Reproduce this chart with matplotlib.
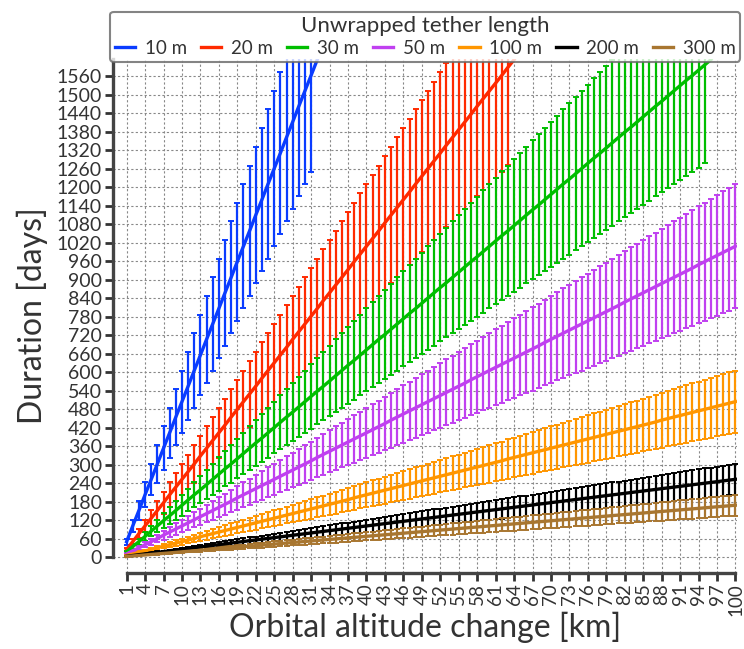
"""
Deorbit duration vs orbital altitude change, for several tether lengths
"""
import numpy as np
import matplotlib
matplotlib.use('Agg')
import matplotlib.pyplot as plt

plt.rcParams['font.family'] = ['Lato', 'DejaVu Sans']

# duration [days], one value per km of altitude change
dur_10m = [50, 101, 151, 202, 252, 302, 353, 403, 454, 504, 554, 605, 655, 706, 756, 806,
           857, 907, 958, 1008, 1058, 1109, 1159, 1210, 1260, 1310, 1361, 1411, 1462, 1512,
           1562, 1613]
dur_20m = [25, 50, 76, 101, 126, 151, 176, 202, 227, 252, 277, 302, 328, 353, 378, 403,
           428, 454, 479, 504, 529, 554, 580, 605, 630, 655, 680, 706, 731, 756, 781, 806,
           832, 857, 882, 907, 932, 958, 983, 1008, 1033, 1058, 1084, 1109, 1134, 1159, 1184,
           1210, 1235, 1260, 1285, 1310, 1336, 1361, 1386, 1411, 1436, 1462, 1487, 1512,
           1537, 1562, 1588, 1613]
dur_30m = [17, 34, 50, 67, 84, 101, 118, 134, 151, 168, 185, 202, 218, 235, 252, 269, 286,
           302, 319, 336, 353, 370, 386, 403, 420, 437, 454, 470, 487, 504, 521, 538, 554,
           571, 588, 605, 622, 638, 655, 672, 689, 706, 722, 739, 756, 773, 790, 806, 823,
           840, 857, 874, 890, 907, 924, 941, 958, 974, 991, 1008, 1025, 1042, 1058, 1075,
           1092, 1109, 1126, 1142, 1159, 1176, 1193, 1210, 1226, 1243, 1260, 1277, 1294,
           1310, 1327, 1344, 1361, 1378, 1394, 1411, 1428, 1445, 1462, 1478, 1495, 1512,
           1529, 1546, 1562, 1579, 1596, 1613]
dur_50m = [10, 20, 30, 40, 50, 60, 71, 81, 91, 101, 111, 121, 131, 141, 151, 161, 171, 181,
           192, 202, 212, 222, 232, 242, 252, 262, 272, 282, 292, 302, 312, 323, 333, 343,
           353, 363, 373, 383, 393, 403, 413, 423, 433, 444, 454, 464, 474, 484, 494, 504,
           514, 524, 534, 544, 554, 564, 575, 585, 595, 605, 615, 625, 635, 645, 655, 665,
           675, 685, 696, 706, 716, 726, 736, 746, 756, 766, 776, 786, 796, 806, 816, 827,
           837, 847, 857, 867, 877, 887, 897, 907, 917, 927, 937, 948, 958, 968, 978, 988,
           998, 1008]
dur_100m = [5, 10, 15, 20, 25, 30, 35, 40, 45, 50, 55, 60, 66, 71, 76, 81, 86, 91, 96, 101,
            106, 111, 116, 121, 126, 131, 136, 141, 146, 151, 156, 161, 166, 171, 176, 181,
            186, 192, 197, 202, 207, 212, 217, 222, 227, 232, 237, 242, 247, 252, 257, 262,
            267, 272, 277, 282, 287, 292, 297, 302, 307, 312, 318, 323, 328, 333, 338, 343,
            348, 353, 358, 363, 368, 373, 378, 383, 388, 393, 398, 403, 408, 413, 418, 423,
            428, 433, 438, 444, 449, 454, 459, 464, 469, 474, 479, 484, 489, 494, 499, 504]
dur_200m = [2.5, 5.0, 7.6, 10.1, 12.6, 15.1, 17.6, 20.2, 22.7, 25.2, 27.7, 30.2, 32.8, 35.3,
            37.8, 40.3, 42.8, 45.4, 47.9, 50.4, 52.9, 55.4, 58.0, 60.5, 63.0, 65.5, 68.0,
            70.6, 73.1, 75.6, 78.1, 80.6, 83.2, 85.7, 88.2, 90.7, 93.2, 95.8, 98.3, 100.8,
            103.3, 105.8, 108.4, 110.9, 113.4, 115.9, 118.4, 121.0, 123.5, 126.0, 128.5,
            131.0, 133.6, 136.1, 138.6, 141.1, 143.6, 146.2, 148.7, 151.2, 153.7, 156.2,
            158.8, 161.3, 163.8, 166.3, 168.8, 171.4, 173.9, 176.4, 178.9, 181.4, 184.0,
            186.5, 189.0, 191.5, 194.0, 196.6, 199.1, 201.6, 204.1, 206.6, 209.2, 211.7,
            214.2, 216.7, 219.2, 221.8, 224.3, 226.8, 229.3, 231.8, 234.4, 236.9, 239.4,
            241.9, 244.4, 247.0, 249.5, 252.0]
dur_300m = [1.7, 3.4, 5.0, 6.7, 8.4, 10.1, 11.8, 13.4, 15.1, 16.8, 18.5, 20.2, 21.8, 23.5,
            25.2, 26.9, 28.6, 30.2, 31.9, 33.6, 35.3, 37.0, 38.6, 40.3, 42.0, 43.7, 45.4,
            47.0, 48.7, 50.4, 52.1, 53.8, 55.4, 57.1, 58.8, 60.5, 62.2, 63.8, 65.5, 67.2,
            68.9, 70.6, 72.2, 73.9, 75.6, 77.3, 79.0, 80.6, 82.3, 84.0, 85.7, 87.4, 89.0,
            90.7, 92.4, 94.1, 95.8, 97.4, 99.1, 100.8, 102.5, 104.2, 105.8, 107.5, 109.2,
            110.9, 112.6, 114.2, 115.9, 117.6, 119.3, 121.0, 122.6, 124.3, 126.0, 127.7,
            129.4, 131.0, 132.7, 134.4, 136.1, 137.8, 139.4, 141.1, 142.8, 144.5, 146.2,
            147.8, 149.5, 151.2, 152.9, 154.6, 156.2, 157.9, 159.6, 161.3, 163.0, 164.6,
            166.3, 168.0]

labels = ['10 m', '20 m', '30 m', '50 m', '100 m', '200 m', '300 m']
colors = ['#0a3cff', '#ff2a00', '#00be00', '#c040f0', '#ff9600', '#000000', '#a87630']
series = [dur_10m, dur_20m, dur_30m, dur_50m, dur_100m, dur_200m, dur_300m]
err_frac = 0.2     # +/- 20 % uncertainty bars
bar_max = 1600     # no bars drawn past the top of the plot

x_ticks = list(range(1, 101, 3))
y_ticks = list(range(0, 1561, 60))

fig = plt.figure(figsize=(7.44, 6.49), dpi=100)
ax = fig.add_axes([0.152, 0.117, 0.839, 0.792])

for dur, lab, col in zip(series, labels, colors):
    dur = np.array(dur, dtype=float)
    x = np.arange(1, len(dur) + 1)
    ok = dur <= bar_max
    ax.errorbar(x[ok], dur[ok], yerr=err_frac * dur[ok], fmt='none', ecolor=col,
                elinewidth=1.6, capsize=2.5, capthick=1.4, zorder=3)
    ax.plot(x, dur, color=col, lw=2.4, label=lab, zorder=4)

ax.set_xlim(-1.2, 100.3)
ax.set_ylim(-52, 1615)
ax.set_xticks(x_ticks)
ax.set_xticklabels([str(v) for v in x_ticks], rotation=90)
ax.set_yticks(y_ticks)
ax.tick_params(axis='both', labelsize=14, colors='#333333', length=6, width=2,
               direction='out', pad=2)
ax.tick_params(axis='x', labelsize=13.5, pad=1)
ax.grid(True, color='#888888', lw=0.8, ls=(0, (2, 2)), zorder=0)

for s in ['top', 'right']:
    ax.spines[s].set_visible(False)
for s in ['left', 'bottom']:
    ax.spines[s].set_color('#444444')
    ax.spines[s].set_linewidth(2.4)
ax.spines['bottom'].set_bounds(1, 100)
ax.spines['left'].set_bounds(0, 1615)

ax.set_xlabel('Orbital altitude change [km]', fontsize=23, color='#333333', labelpad=-3)
ax.set_ylabel('Duration [days]', fontsize=23, color='#333333', labelpad=6)

leg = ax.legend(loc='lower left', bbox_to_anchor=(-0.005, 0.995, 1.01, 0.1), mode='expand',
                ncol=7, fontsize=13.5, title='Unwrapped tether length', title_fontsize=16,
                handlelength=1.1, handletextpad=0.5, columnspacing=0.3, borderaxespad=0.0,
                frameon=True, fancybox=True, edgecolor='#666666', borderpad=0.25,
                labelspacing=0.2)
leg.get_frame().set_linewidth(1.5)
for t in leg.get_texts():
    t.set_color('#333333')
leg.get_title().set_color('#333333')

fig.savefig('out.png', dpi=100)
